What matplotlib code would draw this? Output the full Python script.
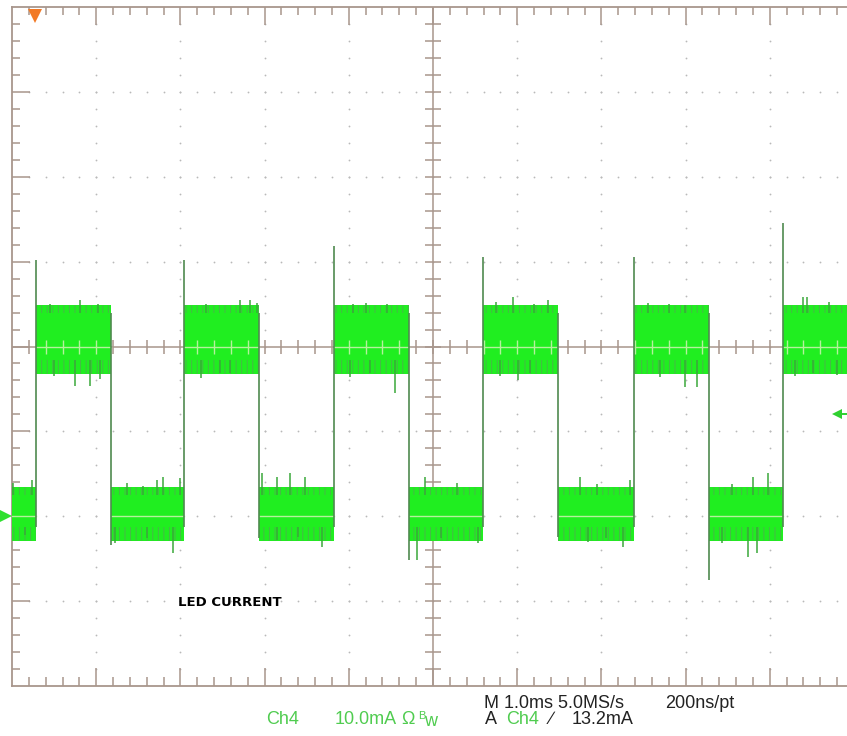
import matplotlib
matplotlib.use("Agg")
import matplotlib.pyplot as plt
import numpy as np

# ---------------- data (time in ms from left screen edge, current in mA) ----------------
edge_times = [0.29, 1.18, 2.04, 2.93, 3.82, 4.72, 5.59, 6.48, 7.39, 8.28, 9.16]
first_level = "low"
high_band = (18.4, 24.0)
low_band = (-1.3, 2.5)
rise_overshoot = [30.2, 30.2, 31.8, 30.5, 30.6, 34.5]
fall_undershoot = [-3.4, -2.6, -5.1, -2.5, -7.5]

up_spike_t = [0.01, 0.24, 0.45, 0.81, 1.02, 1.37, 1.55, 1.72, 1.79, 2.00, 2.30, 2.71, 2.83,
              2.91, 2.97, 3.15, 3.30, 3.48, 4.05, 4.20, 4.45, 4.90, 5.29, 5.75, 5.95, 6.20,
              6.37, 6.75, 6.95, 7.34, 7.55, 7.80, 7.99, 8.55, 8.80, 8.98, 9.39, 9.44, 9.70]
up_spike_v = [3.9, 4.3, 25.0, 25.5, 25.0, 3.9, 3.6, 4.3, 4.6, 4.5, 25.0, 25.5, 25.5,
              25.1, 5.1, 4.6, 5.1, 4.6, 25.0, 25.1, 25.0, 4.6, 3.9, 25.2, 25.8, 25.0,
              25.5, 4.6, 3.8, 4.3, 25.1, 25.0, 24.9, 3.8, 4.6, 5.1, 25.8, 25.8, 25.2]
down_spike_t = [0.15, 0.50, 0.75, 0.93, 1.05, 1.22, 1.60, 1.91, 2.25, 2.47, 2.59, 3.15,
                3.40, 3.68, 4.01, 4.25, 4.55, 4.81, 5.10, 5.53, 5.80, 6.01, 6.15, 6.84,
                7.05, 7.26, 7.70, 7.99, 8.14, 8.43, 8.74, 8.85, 9.30, 9.51, 9.80]
down_spike_v = [-2.2, 16.5, 15.4, 15.4, 16.2, -3.1, -2.6, -4.3, 16.3, 16.9, 16.9, -2.8,
                -2.5, -3.6, 16.4, 16.9, 14.5, -5.1, -2.6, -3.1, 16.5, 16.0, 16.9, -3.0,
                -2.6, -3.6, 16.4, 15.2, 15.2, -3.1, -4.8, -4.3, 16.5, 16.9, 16.6]

trigger_pos_ms = 0.27
ground_mA = 0.0
trigger_level_mA = 12.0

x_range = (0, 10)      # 10 divisions, 1.0 ms/div
y_range = (-20, 60)    # 8 divisions, 10 mA/div

# ---------------- figure ----------------
plt.rcParams["hatch.linewidth"] = 0.7
W, H = 847, 736
fig = plt.figure(figsize=(W / 100, H / 100), dpi=100)
fig.patch.set_facecolor("white")
ax = fig.add_axes([12 / W, 50 / H, 842 / W, 679 / H])
ax.set_xlim(*x_range)
ax.set_ylim(*y_range)
ax.axis("off")

grat = "#a8968c"
dotc = "#b9b9b9"

# dotted graticule
xs_minor = np.arange(1, 50) * 0.2
ys_minor = y_range[0] + np.arange(1, 40) * 2.0
for gx in range(1, 10):
    if gx == 5:
        continue
    ax.plot([gx] * len(ys_minor), ys_minor, ls="", marker="o", ms=1.3, color=dotc, mew=0, zorder=1)
for gy in (-10, 0, 10, 30, 40, 50):
    ax.plot(xs_minor, [gy] * len(xs_minor), ls="", marker="o", ms=1.3, color=dotc, mew=0, zorder=1)

# center crosshair
ax.plot([0, 10], [20, 20], color=grat, lw=1.1, zorder=1)
ax.plot([5, 5], [-20, 60], color=grat, lw=1.1, zorder=1)
ax.plot(xs_minor, [20] * len(xs_minor), ls="", marker="|", ms=9.5, mew=1.1, color=grat, zorder=1)
ax.plot([5] * len(ys_minor), ys_minor, ls="", marker="_", ms=11.5, mew=1.1, color=grat, zorder=1)

# border
ax.plot([0, 0], [-20, 60], color=grat, lw=1.3, clip_on=False, zorder=2)
ax.plot([0, 10.2], [60, 60], color=grat, lw=1.3, clip_on=False, zorder=2)
ax.plot([0, 10.2], [-20, -20], color=grat, lw=1.3, clip_on=False, zorder=2)
maj_x = np.arange(1, 10)
min_x = np.array([v for v in xs_minor if abs(v - round(v)) > 1e-6])
ax.plot(min_x, [60] * len(min_x), ls="", marker=3, ms=6, mew=1.1, color=grat, clip_on=False)
ax.plot(maj_x, [60] * len(maj_x), ls="", marker=3, ms=13, mew=1.1, color=grat, clip_on=False)
ax.plot(min_x, [-20] * len(min_x), ls="", marker=2, ms=6.5, mew=1.1, color=grat, clip_on=False)
ax.plot(maj_x, [-20] * len(maj_x), ls="", marker=2, ms=13, mew=1.1, color=grat, clip_on=False)
maj_y = np.arange(-10, 60, 10)
min_y = np.array([v for v in ys_minor if abs(v % 10) > 1e-6])
ax.plot([0] * len(min_y), min_y, ls="", marker=1, ms=5.5, mew=1.1, color=grat, clip_on=False)
ax.plot([0] * len(maj_y), maj_y, ls="", marker=1, ms=13, mew=1.1, color=grat, clip_on=False)

# ---------------- trace ----------------
bright = "#20ee20"
fringe_edge = "#48b848"
spike_c = "#3aa83a"
edge_c = "#4f8a4f"
light = "#b4f29c"

bounds = [x_range[0]] + edge_times + [x_range[1]]
level = first_level
for i in range(len(bounds) - 1):
    t0, t1 = bounds[i], bounds[i + 1]
    lo, hi = high_band if level == "high" else low_band
    ax.fill_between([t0, t1], lo, hi, color=bright, lw=0, zorder=3.2)
    ax.fill_between([t0, t1], hi, hi + 0.9, facecolor=bright, edgecolor=fringe_edge,
                    hatch="|||", lw=0, zorder=3.0)
    ax.fill_between([t0, t1], lo - 1.6, lo, facecolor=bright, edgecolor=fringe_edge,
                    hatch="|||", lw=0, zorder=3.0)
    gy = 20 if level == "high" else 0
    ax.plot([t0, t1], [gy, gy], color=light, lw=1.0, zorder=3.4)
    if level == "high":
        tk = [v for v in xs_minor if t0 < v < t1]
        ax.plot(tk, [20] * len(tk), ls="", marker="|", ms=9.5, mew=1.0, color=light, zorder=3.4)
    level = "low" if level == "high" else "high"

up_base = [21.2 if v > 10 else 0.6 for v in up_spike_v]
dn_base = [21.2 if v > 10 else 0.6 for v in down_spike_v]
ax.vlines(up_spike_t, up_base, up_spike_v, color=spike_c, lw=1.1, zorder=3.1)
ax.vlines(down_spike_t, dn_base, down_spike_v, color=spike_c, lw=1.1, zorder=3.1)

rise_t = edge_times[0::2]
fall_t = edge_times[1::2]
ax.vlines(rise_t, low_band[0], rise_overshoot, color=edge_c, lw=1.2, zorder=3.5)
ax.vlines(fall_t, fall_undershoot, high_band[1], color=edge_c, lw=1.2, zorder=3.5)

# markers
ax.plot([trigger_pos_ms], [58.9], marker="v", ms=10, color="#f27a26", mew=0, clip_on=False, zorder=6)
ax.plot([-0.07], [ground_mA], marker=">", ms=8, color="#2fe02f", mew=0, clip_on=False, zorder=6)
ax.plot([9.80], [trigger_level_mA], marker="<", ms=6.5, color="#2fd02f", mew=0, zorder=6)
ax.plot([9.80, 9.92], [trigger_level_mA] * 2, color="#2fd02f", lw=1.4, zorder=6)

# ---------------- text ----------------
def px(x, y):
    return x / W, 1 - y / H

green_t = "#50cc50"
font = dict(family="Liberation Sans", fontsize=13, va="center", ha="left")
fig.text(*px(484, 703), "M 1.0ms 5.0MS/s", color="#222222", **font)
fig.text(*px(665, 703), "200ns/pt", color="#222222", **font)
fig.text(*px(266, 720), "Ch4", color=green_t, **font)
fig.text(*px(335, 720), "10.0mA", color=green_t, **font)
fig.text(*px(401, 720), "\u03a9", color=green_t, **font)
fig.text(*px(418, 716), "B", color=green_t, family="Liberation Sans", fontsize=8, va="center", ha="left")
fig.text(*px(424, 721), "w", color=green_t, **font)
fig.text(*px(485, 720), "A", color="#222222", **font)
fig.text(*px(506, 720), "Ch4", color=green_t, **font)
fig.text(*px(550, 720), "\u2215", color="#222222", **font)
fig.text(*px(572, 720), "13.2mA", color="#222222", **font)

fig.text(*px(178, 603), "LED CURRENT", color="black", family="DejaVu Sans",
         fontweight="bold", fontsize=9.5, va="center", ha="left")

fig.savefig("out.png", dpi=100, facecolor="white")
